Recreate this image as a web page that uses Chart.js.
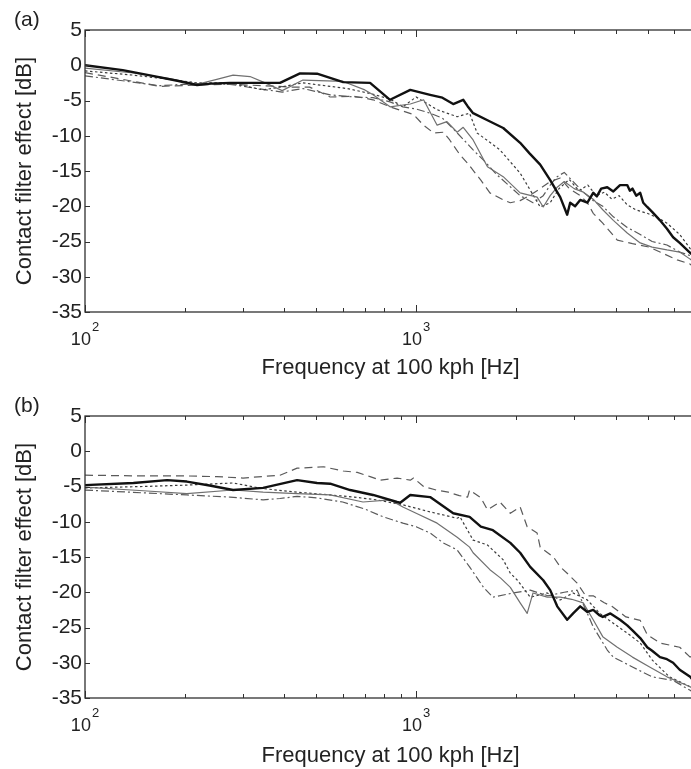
<!DOCTYPE html>
<html><head><meta charset="utf-8">
<script src="https://cdn.jsdelivr.net/npm/chart.js@4.4.1/dist/chart.umd.min.js"></script>
<style>
html,body{margin:0;padding:0;background:#fff;overflow:hidden;width:691px;height:769px;position:relative}
.wrap{position:absolute;left:0;width:700px;height:386px}
#wa{top:0}
#wb{top:386px}
</style></head>
<body>
<div id="wa" class="wrap"><canvas id="ca" width="700" height="386"></canvas></div>
<div id="wb" class="wrap"><canvas id="cb" width="700" height="386"></canvas></div>
<script>
// ---------- axes ----------
const X_MIN = 100, X_MAX = 7000;
const Y_MIN = -35, Y_MAX = 5, Y_STEP = 5;
const X_TICKS = [100,200,300,400,500,600,700,800,900,1000,2000,3000,4000,5000,6000,7000];
const X_MAJOR = [100, 1000];
const X_TICK_BASE = ['10', '10'];
const X_TICK_EXP = ['2', '3'];
const X_TITLE = 'Frequency at 100 kph [Hz]';
const Y_TITLE = 'Contact filter effect [dB]';
const PANEL_LABELS = ['(a)', '(b)'];

// ---------- panel (a) ----------
const a_thick_hz = [100,130,160,190,218,240,274,330,388,446,502,602,726,834,960,1102,1200,1294,1387,1430,1486,1642,1832,2061,2200,2369,2540,2667,2723,2858,2918,3020,3129,3289,3425,3513,3620,3777,3940,4127,4339,4420,4500,4620,4750,4850,4986,5160,5450,5720,5970,6250,6720,7000];
const a_thick_db = [0,-0.7,-1.5,-2.2,-2.8,-2.6,-2.5,-2.5,-2.5,-1.15,-1.2,-2.4,-2.5,-4.9,-3.5,-4.2,-4.6,-5.5,-4.9,-5.8,-6.8,-7.8,-8.9,-11,-12.5,-14.1,-16.3,-18,-18.7,-21.2,-19.5,-20,-19.1,-19.5,-18.1,-18.6,-17.5,-17.3,-17.9,-17,-17,-17.8,-17.5,-18.5,-18.1,-19.5,-20.1,-20.8,-22,-23.2,-24.4,-25.2,-26.6,-27.3];

const a_thin_hz = [100,140,180,218,250,280,315,350,394,455,602,700,741,834,960,1053,1157,1239,1330,1387,1486,1642,1832,2061,2319,2420,2540,2667,2800,3000,3200,3425,3660,3940,4339,4750,5160,5720,6250,6720,7000];
const a_thin_db = [-0.4,-1.1,-1.9,-2.7,-2.0,-1.4,-1.6,-2.5,-3.6,-2.1,-2.3,-3.5,-4.2,-5.9,-5.5,-4.9,-8.5,-8,-9.5,-8.8,-10.6,-14.4,-15.8,-18.1,-18.7,-20.1,-18.5,-17.3,-16.5,-17.5,-18,-19,-20.5,-22,-23.8,-25.2,-25.8,-26.2,-26.5,-27.5,-28];

const a_dot_hz = [100,140,180,218,274,345,388,455,618,726,834,912,1000,1157,1330,1450,1528,1790,2061,2210,2369,2540,2700,2900,3100,3300,3500,3700,3900,4100,4339,4600,4986,5450,5720,6250,6720,7000];
const a_dot_db = [-0.8,-1.4,-2.0,-2.5,-2.5,-3.5,-3.1,-2.5,-3.3,-4,-4.8,-5.9,-4.5,-6.3,-7.3,-6.8,-9.6,-12,-15.3,-17.7,-20.1,-19.5,-17.5,-16.2,-17.8,-17,-18.5,-18,-19,-18.5,-19.8,-20.5,-21,-21.8,-22.4,-24,-26,-27];

const a_dash_hz = [100,130,168,218,274,345,420,477,550,650,741,834,982,1053,1129,1208,1263,1356,1430,1568,1670,1832,1925,2061,2200,2369,2540,2723,2900,3129,3289,3425,3660,4050,4500,5070,5450,6140,6720,7000];
const a_dash_db = [-1.05,-2.0,-3.0,-2.8,-2.7,-2.9,-3.1,-3.1,-4.5,-4.4,-4.9,-5.9,-7,-8.5,-9.6,-9.5,-10.6,-12.7,-13.9,-16.3,-18.1,-19.1,-19.5,-19.2,-18.5,-17.5,-16.5,-16,-17.5,-18.5,-19.5,-21,-22.4,-24.8,-25.3,-25.8,-26.5,-27.6,-28.2,-29];

const a_dd_hz = [100,130,168,218,274,330,394,455,550,650,741,834,912,1000,1102,1200,1294,1387,1486,1600,1750,1900,2061,2254,2420,2540,2667,2800,2979,3196,3425,3660,3940,4339,4750,5160,5720,6250,6720,7000];
const a_dd_db = [-1.5,-2.2,-2.9,-2.6,-2.7,-3.3,-3.8,-3.3,-4.2,-4.5,-4.6,-5.2,-5.9,-6.2,-6.8,-7.5,-9,-10.5,-12,-13.5,-15.5,-17,-18.5,-19.5,-18.5,-17,-15.8,-15.2,-16.5,-18,-19.2,-20,-21.5,-23,-24,-25,-25.5,-26.5,-27,-27.8];

// ---------- panel (b) ----------
const b_thick_hz = [100,140,177,203,240,280,345,437,502,550,632,741,876,895,960,1102,1294,1450,1568,1705,1925,2061,2210,2420,2540,2667,2858,2979,3129,3289,3425,3585,3660,3860,4127,4339,4500,4750,4986,5160,5450,5720,5970,6250,6720,7000];
const b_thick_db = [-4.8,-4.5,-4.1,-4.3,-4.9,-5.5,-5.2,-4.1,-4.5,-4.6,-5.5,-6.2,-7.2,-7.3,-6.2,-6.5,-8.8,-9.3,-10.7,-11.2,-13,-14.4,-16.4,-18.3,-19.7,-22,-23.9,-23,-22,-22.8,-22.5,-23.3,-23.5,-23,-23.9,-24.7,-25.4,-26.5,-27.8,-28.3,-29.2,-29.5,-30,-31,-32,-33];

const b_thin_hz = [100,150,203,280,345,437,550,691,834,912,1000,1157,1330,1450,1486,1670,1800,1925,2061,2164,2254,2488,2723,2950,3196,3425,3660,4050,4500,5070,5720,6720,7000];
const b_thin_db = [-5.1,-5.6,-6,-5.5,-5.8,-6,-6.2,-7.2,-6.9,-7.9,-8.8,-10.2,-12.2,-13.6,-14.4,-16.8,-18,-19.3,-21.5,-23,-20.1,-20.7,-20.7,-21,-21.5,-23.9,-26.3,-27.8,-29.2,-30.6,-32,-33.4,-34];

const b_dot_hz = [100,150,203,280,345,437,550,650,761,912,1102,1330,1356,1486,1642,1832,1925,2022,2210,2488,2723,2979,3289,3585,3940,4339,4750,5160,5820,6720,7000];
const b_dot_db = [-5.2,-5.0,-4.8,-4.5,-5.3,-5.8,-6.2,-6.5,-6.9,-7.6,-8.6,-9.5,-9.3,-12.6,-13.3,-15.4,-17.3,-18.3,-20.7,-20.1,-21.1,-20.1,-21.1,-23,-24.4,-25.8,-27.2,-29.6,-32,-33.4,-34];

const b_dash_hz = [100,150,200,250,300,388,437,525,602,664,726,778,876,960,982,1053,1150,1250,1350,1430,1450,1568,1642,1790,1925,2061,2164,2319,2369,2598,2723,2858,3063,3250,3425,3700,3900,4300,4750,4986,5450,6250,6720,7000];
const b_dash_db = [-3.4,-3.5,-3.5,-3.6,-3.8,-3.4,-2.4,-2.2,-2.8,-3,-3.6,-4.1,-3.8,-4.1,-3.8,-5,-5.5,-5.8,-6.3,-6.5,-5.5,-6.6,-8.3,-7.2,-8.8,-7.9,-10.7,-11.6,-13.6,-15,-16.4,-17.3,-18.7,-20.5,-20.5,-21.5,-22,-23.5,-24,-26,-27.2,-27.8,-29.2,-28.5];

const b_dd_hz = [100,150,203,274,345,388,437,500,600,700,795,912,1000,1102,1208,1330,1450,1597,1705,1966,2210,2500,2800,3063,3425,3777,3940,4500,5160,5970,6720,7000];
const b_dd_db = [-5.5,-5.9,-6.2,-6.5,-6.9,-6.7,-6.4,-6.6,-7.2,-8.2,-9.3,-10.2,-10.7,-11.6,-13,-14,-16.4,-19.3,-20.7,-20.1,-19.7,-20.5,-20,-19.7,-24.9,-28.2,-29.2,-30.6,-32,-32.5,-33.9,-34.5];

// ---------- styling ----------
const FONT = "'Liberation Sans', Arial, Helvetica, sans-serif";
const TEXT = '#222';
const STYLE = {
  thick:   {borderColor:'#111111', borderWidth:2.4, borderDash:[]},
  thin:    {borderColor:'#707070', borderWidth:1.2, borderDash:[]},
  dot:     {borderColor:'#3c3c3c', borderWidth:1.2, borderDash:[2.5,2.5]},
  dash:    {borderColor:'#5a5a5a', borderWidth:1.2, borderDash:[8,5]},
  dashdot: {borderColor:'#5a5a5a', borderWidth:1.2, borderDash:[8,3,2,3]}
};

function pts(hz, db) {
  const n = Math.min(hz.length, db.length);
  const out = [];
  for (let i = 0; i < n; i++) out.push({x: hz[i], y: db[i]});
  return out;
}
function ds(label, hz, db, st) {
  return Object.assign({label, data: pts(hz, db), pointRadius:0, fill:false, tension:0, borderJoinStyle:'round'}, st);
}

const framePlugin = {
  id: 'matlabFrame',
  afterDatasetsDraw(chart) {
    const {ctx, chartArea:{left,right,top,bottom}, scales:{x,y}} = chart;
    const o = chart.options.plugins.matlabFrame;
    ctx.save();
    ctx.strokeStyle = '#303030';
    ctx.lineWidth = 1.3;
    ctx.strokeRect(left, top, right-left, bottom-top);
    ctx.lineWidth = 1;
    ctx.beginPath();
    x.ticks.forEach(t => {
      const px = Math.round(x.getPixelForValue(t.value)) + 0.5;
      const L = X_MAJOR.includes(t.value) ? 7 : 4;
      ctx.moveTo(px, bottom); ctx.lineTo(px, bottom - L);
      ctx.moveTo(px, top); ctx.lineTo(px, top + L);
    });
    y.ticks.forEach(t => {
      const py = Math.round(y.getPixelForValue(t.value)) + 0.5;
      ctx.moveTo(left, py); ctx.lineTo(left + 5, py);
      ctx.moveTo(right, py); ctx.lineTo(right - 5, py);
    });
    ctx.stroke();
    // x tick labels with superscripts
    ctx.fillStyle = TEXT;
    ctx.textBaseline = 'alphabetic';
    ctx.textAlign = 'left';
    X_MAJOR.forEach((v, i) => {
      const px = x.getPixelForValue(v);
      ctx.font = '18px ' + FONT;
      const wb = ctx.measureText(X_TICK_BASE[i]).width;
      ctx.font = '13px ' + FONT;
      const we = ctx.measureText(X_TICK_EXP[i]).width;
      const x0 = px - (wb + 1 + we) / 2;
      ctx.font = '18px ' + FONT;
      ctx.fillText(X_TICK_BASE[i], x0, bottom + 33);
      ctx.font = '13px ' + FONT;
      ctx.fillText(X_TICK_EXP[i], x0 + wb + 1, bottom + 19);
    });
    // panel letter
    ctx.font = '21px ' + FONT;
    ctx.fillText(o.letter, 14, 26);
    ctx.restore();
  }
};

function makeChart(id, sets, letter, titlePad) {
  return new Chart(document.getElementById(id), {
    type: 'line',
    data: { datasets: sets },
    plugins: [framePlugin],
    options: {
      responsive: false,
      animation: false,
      devicePixelRatio: 1,
      layout: { padding: { top: 30, right: 4, left: 0, bottom: 0 } },
      plugins: { legend: { display: false }, tooltip: { enabled: false }, matlabFrame: { letter } },
      scales: {
        x: {
          type: 'logarithmic', min: X_MIN, max: X_MAX,
          afterBuildTicks: s => { s.ticks = X_TICKS.map(v => ({value: v})); },
          ticks: { display: false },
          grid: { display: false, drawTicks: false },
          border: { display: false },
          title: { display: true, text: X_TITLE, color: TEXT, font: { family: FONT, size: 22 }, padding: { top: 0, bottom: titlePad } },
          afterFit: s => { s.height = 74; }
        },
        y: {
          min: Y_MIN, max: Y_MAX,
          ticks: { stepSize: Y_STEP, color: TEXT, font: { family: FONT, size: 21 }, padding: 3 },
          grid: { display: false, drawTicks: false },
          border: { display: false },
          title: { display: true, text: Y_TITLE, color: TEXT, font: { family: FONT, size: 22 }, padding: { top: 12, bottom: 0 } },
          afterFit: s => { s.width = 85; }
        }
      }
    }
  });
}

makeChart('ca', [
  ds('thick', a_thick_hz, a_thick_db, STYLE.thick),
  ds('thin', a_thin_hz, a_thin_db, STYLE.thin),
  ds('dotted', a_dot_hz, a_dot_db, STYLE.dot),
  ds('dashed', a_dash_hz, a_dash_db, STYLE.dash),
  ds('dashdot', a_dd_hz, a_dd_db, STYLE.dashdot)
], PANEL_LABELS[0], 5);

makeChart('cb', [
  ds('thick', b_thick_hz, b_thick_db, STYLE.thick),
  ds('thin', b_thin_hz, b_thin_db, STYLE.thin),
  ds('dotted', b_dot_hz, b_dot_db, STYLE.dot),
  ds('dashed', b_dash_hz, b_dash_db, STYLE.dash),
  ds('dashdot', b_dd_hz, b_dd_db, STYLE.dashdot)
], PANEL_LABELS[1], 2.5);
</script>
</body></html>
